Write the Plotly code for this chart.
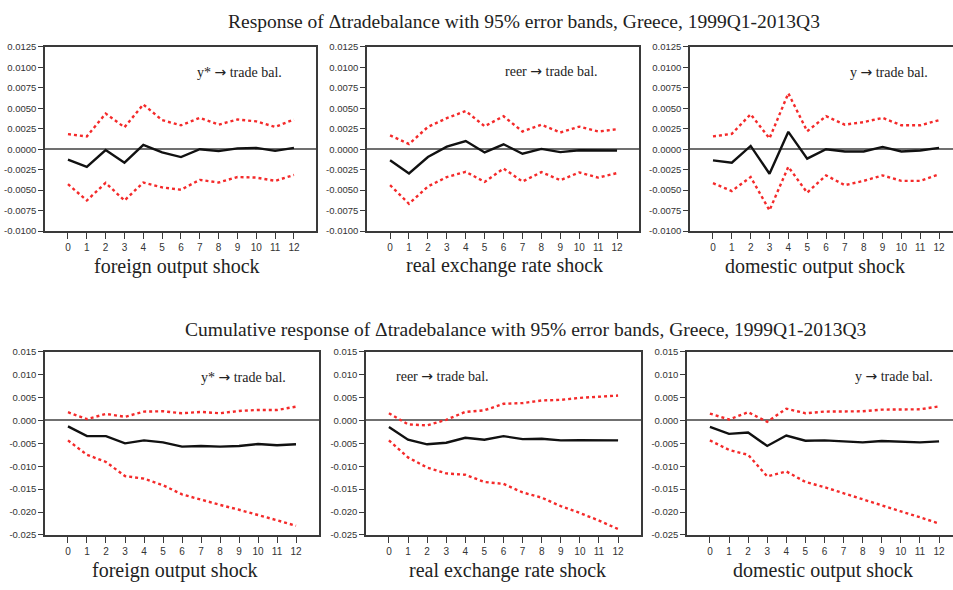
import plotly.graph_objects as go

# Horizons (quarters after the shock)
horizon = list(range(13))

# ---- Impulse responses of the trade balance (point estimate, upper and lower 95% bands)
foreign_irf = [-0.00128, -0.00216, -0.0001, -0.00164, 0.00052, -0.0004, -0.00096, 0.0, -0.00024, 0.0001, 0.00016, -0.0002, 0.00016]
foreign_irf_hi = [0.00184, 0.00156, 0.00435, 0.00268, 0.00547, 0.00355, 0.00292, 0.00383, 0.003, 0.00363, 0.0034, 0.00272, 0.00363]
foreign_irf_lo = [-0.00427, -0.00627, -0.00411, -0.00627, -0.00407, -0.00467, -0.00495, -0.00375, -0.00407, -0.0034, -0.00347, -0.00387, -0.00315]

reer_irf = [-0.00136, -0.00296, -0.00096, 0.00032, 0.001, -0.0004, 0.0006, -0.00056, 0.00004, -0.00036, -0.00012, -0.00012, -0.00016]
reer_irf_hi = [0.00168, 0.00064, 0.00272, 0.0038, 0.00467, 0.0028, 0.00403, 0.00216, 0.003, 0.00204, 0.00276, 0.00216, 0.00244]
reer_irf_lo = [-0.00439, -0.00667, -0.00455, -0.0034, -0.00276, -0.004, -0.00236, -0.00395, -0.0028, -0.00379, -0.00284, -0.00347, -0.00292]

domestic_irf = [-0.00136, -0.00164, 0.0004, -0.003, 0.00212, -0.00116, 0.0, -0.00028, -0.00028, 0.00028, -0.00028, -0.00016, 0.00016]
domestic_irf_hi = [0.00156, 0.00188, 0.00427, 0.00132, 0.00683, 0.0022, 0.00403, 0.003, 0.00331, 0.00383, 0.00292, 0.00292, 0.00355]
domestic_irf_lo = [-0.00415, -0.00511, -0.0034, -0.00747, -0.00216, -0.00531, -0.0032, -0.00439, -0.00387, -0.0032, -0.00387, -0.00387, -0.00307]

# ---- Cumulative responses
foreign_cum = [-0.00129, -0.00343, -0.00343, -0.005, -0.00436, -0.00479, -0.00571, -0.00557, -0.00571, -0.00557, -0.00514, -0.00543, -0.00521]
foreign_cum_hi = [0.00179, 0.00029, 0.00143, 0.00079, 0.00193, 0.002, 0.00157, 0.00186, 0.00157, 0.00207, 0.00229, 0.00229, 0.003]
foreign_cum_lo = [-0.00436, -0.0075, -0.00907, -0.01214, -0.01271, -0.01414, -0.01614, -0.01736, -0.01843, -0.0195, -0.02057, -0.02179, -0.023]

reer_cum = [-0.00143, -0.00421, -0.00521, -0.00486, -0.00379, -0.00421, -0.00343, -0.00407, -0.004, -0.00436, -0.00429, -0.00429, -0.00436]
reer_cum_hi = [0.00157, -0.00086, -0.00107, 0.00014, 0.00186, 0.00221, 0.00364, 0.00379, 0.00436, 0.0045, 0.00493, 0.00521, 0.00543]
reer_cum_lo = [-0.00436, -0.00807, -0.01029, -0.01157, -0.01186, -0.01343, -0.01386, -0.01571, -0.01686, -0.01871, -0.02021, -0.02186, -0.02371]

domestic_cum = [-0.00143, -0.00293, -0.00264, -0.00557, -0.00329, -0.00443, -0.00436, -0.00464, -0.00479, -0.0045, -0.00471, -0.00479, -0.00457]
domestic_cum_hi = [0.0015, 0.00021, 0.00179, -0.00029, 0.00257, 0.00157, 0.00193, 0.00193, 0.002, 0.00236, 0.00243, 0.00243, 0.00307]
domestic_cum_lo = [-0.00436, -0.00643, -0.0075, -0.01221, -0.01114, -0.01343, -0.01457, -0.01593, -0.01721, -0.01857, -0.01986, -0.02114, -0.0225]

# Tick values
irf_yticks = [-0.01, -0.0075, -0.005, -0.0025, 0.0, 0.0025, 0.005, 0.0075, 0.01, 0.0125]
cum_yticks = [-0.025, -0.02, -0.015, -0.01, -0.005, 0.0, 0.005, 0.01, 0.015]

# Text
top_title = "Response of \u0394tradebalance with 95% error bands, Greece, 1999Q1-2013Q3"
bottom_title = "Cumulative response of \u0394tradebalance with 95% error bands, Greece, 1999Q1-2013Q3"
shock_names = ["foreign output shock", "real exchange rate shock", "domestic output shock"]
ARROW = "<span style='font-family:DejaVu Sans'>\u2192</span>"
panel_labels = [f"y* {ARROW} trade bal.", f"reer {ARROW} trade bal.", f"y {ARROW} trade bal."]

W, H = 953, 590
SERIF = "Liberation Serif, Times New Roman, serif"
NARROW = "Liberation Sans Narrow, Arial Narrow, Liberation Sans, sans-serif"
RED = "#f42a2a"
AXIS = "#3a3a3a"


def px_x(p):
    return p / W


def px_y(p):
    return 1 - p / H


panels = [
    # (mid, hi, lo, ytick set, fmt, x-domain px, y-domain px, x range, right frame)
    (foreign_irf, foreign_irf_hi, foreign_irf_lo, irf_yticks, "{:.4f}", (45, 316), (229.3, 41.7), (-1.22, 13.17), True),
    (reer_irf, reer_irf_hi, reer_irf_lo, irf_yticks, "{:.4f}", (367, 639), (229.3, 41.7), (-1.22, 13.16), True),
    (domestic_irf, domestic_irf_hi, domestic_irf_lo, irf_yticks, "{:.4f}", (690, 953), (229.3, 41.7), (-1.22, 12.74), False),
    (foreign_cum, foreign_cum_hi, foreign_cum_lo, cum_yticks, "{:.3f}", (45, 319), (539, 352.3), (-1.21, 13.21), True),
    (reer_cum, reer_cum_hi, reer_cum_lo, cum_yticks, "{:.3f}", (366, 641), (539, 352.3), (-1.2, 13.2), True),
    (domestic_cum, domestic_cum_hi, domestic_cum_lo, cum_yticks, "{:.3f}", (687, 953), (539, 352.3), (-1.2, 12.73), False),
]

fig = go.Figure()
layout = {}
for i, (mid, hi, lo, yt, fmt, xd, yd, xr, right_frame) in enumerate(panels):
    n = i + 1
    xa = "x" if n == 1 else f"x{n}"
    ya = "y" if n == 1 else f"y{n}"
    for band in (hi, lo):
        fig.add_trace(go.Scatter(x=horizon, y=band, xaxis=xa, yaxis=ya, mode="lines",
                                 line=dict(color=RED, width=2.4, dash="dot"),
                                 showlegend=False, hoverinfo="skip"))
    fig.add_trace(go.Scatter(x=horizon, y=mid, xaxis=xa, yaxis=ya, mode="lines",
                             line=dict(color="#111111", width=2.4),
                             showlegend=False))
    layout[f"xaxis{'' if n == 1 else n}"] = dict(
        domain=[px_x(xd[0]), px_x(xd[1])], range=list(xr), anchor=ya,
        tickvals=horizon, ticktext=[str(h) for h in horizon],
        showline=True, linecolor=AXIS, linewidth=1.5, mirror=True,
        ticks="outside", ticklen=6, tickcolor=AXIS, tickwidth=1,
        showgrid=False, zeroline=False,
        tickfont=dict(family=NARROW, size=10, color="#333333"),
    )
    layout[f"yaxis{'' if n == 1 else n}"] = dict(
        domain=[px_y(yd[0]), px_y(yd[1])], range=[yt[0], yt[-1]], anchor=xa,
        tickvals=yt, ticktext=[fmt.format(v) for v in yt],
        showline=True, linecolor=AXIS, linewidth=1.5, mirror=right_frame,
        ticks="outside", ticklen=5, tickcolor=AXIS, tickwidth=1,
        showgrid=False, zeroline=True, zerolinecolor="#707070", zerolinewidth=1.5,
        tickfont=dict(family=NARROW, size=9.5, color="#333333"),
    )

annotations = [
    dict(text=top_title, x=px_x(524), y=px_y(16)),
    dict(text=bottom_title, x=px_x(525), y=px_y(330)),
]
for a in annotations:
    a.update(xref="paper", yref="paper", showarrow=False, xanchor="center", yanchor="middle",
             font=dict(family=SERIF, size=19.5, color="#222222"))

# x-axis captions under each panel
caption_pos = [(177, 265), (504, 264), (815, 265), (175, 575), (507, 575), (823, 575)]
for i, (cx, cy) in enumerate(caption_pos):
    annotations.append(dict(text=shock_names[i % 3], x=px_x(cx), y=px_y(cy),
                            xref="paper", yref="paper", showarrow=False,
                            xanchor="center", yanchor="middle",
                            font=dict(family=SERIF, size=20, color="#222222")))

# in-panel labels
label_pos = [(239, 67), (551, 66), (889, 67), (244, 378), (442, 377), (894, 377)]
for i, (cx, cy) in enumerate(label_pos):
    annotations.append(dict(text=panel_labels[i % 3], x=px_x(cx), y=px_y(cy),
                            xref="paper", yref="paper", showarrow=False,
                            xanchor="center", yanchor="middle",
                            font=dict(family=SERIF, size=14, color="#222222")))

fig.update_layout(
    width=W, height=H,
    margin=dict(l=0, r=0, t=0, b=0),
    paper_bgcolor="white", plot_bgcolor="white",
    annotations=annotations,
    **layout,
)

fig.write_html("out.html")
